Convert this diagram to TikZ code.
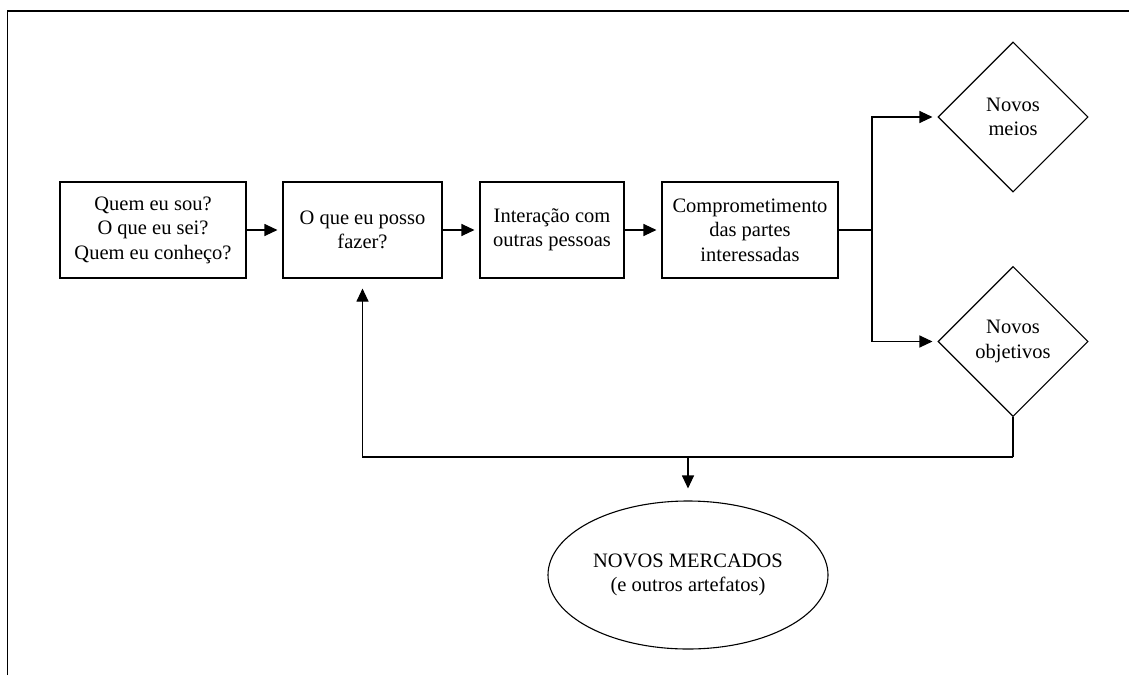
\documentclass[tikz,border=0pt]{standalone}
\usepackage{fontspec}
\setmainfont{Liberation Serif}
\usetikzlibrary{shapes.geometric,arrows.meta}
\begin{document}
\begin{tikzpicture}[x=1pt,y=-1pt,
  every node/.style={font=\fontsize{20.5}{24.5}\selectfont, align=center, inner sep=0pt},
  box/.style={draw, line width=1.1pt, minimum height=96pt},
  dia/.style={draw, diamond, aspect=1, minimum width=150pt, minimum height=150pt, line width=1.1pt},
  oval/.style={draw, ellipse, minimum width=280pt, minimum height=148pt, line width=1.1pt},
  conn/.style={line width=1.1pt},
  arr/.style={conn, -{Triangle[length=13pt,width=12pt]}, shorten >=5pt}
]
\useasboundingbox (0,0) rectangle (1129,675);
\draw[line width=1.5pt] (7.5,675) -- (7.5,11) -- (1129,11);

\node[box, minimum width=186pt] (b1) at (153,230) {Quem eu sou?\\O que eu sei?\\Quem eu conheço?};
\node[box, minimum width=159pt] (b2) at (362.5,230) {O que eu posso\\fazer?};
\node[box, minimum width=144pt] (b3) at (552,230) {Interação com\\outras pessoas};
\node[box, minimum width=176pt] (b4) at (750,230) {Comprometimento\\das partes\\interessadas};
\node[dia] (d1) at (1013,117) {Novos\\meios};
\node[dia] (d2) at (1013,341.5) {Novos\\objetivos};
\node[oval] (e) at (688,575) {NOVOS MERCADOS\\(e outros artefatos)};

\coordinate (split) at (872,230);
\coordinate (bot) at (1013,457);
\coordinate (mid) at (688,457);

\draw[arr] (b1) -- (b2);
\draw[arr] (b2) -- (b3);
\draw[arr] (b3) -- (b4);
\draw[conn] (b4.east) -- (split);
\draw[arr] (split) |- (d1.west);
\draw[arr] (split) |- (d2.west);
\draw[conn] (d2.south) -- (bot);
\draw[arr, shorten >=10pt] (bot) -| (b2.south);
\draw[arr, shorten >=12pt] (mid) -- (e.north);
\end{tikzpicture}
\end{document}
